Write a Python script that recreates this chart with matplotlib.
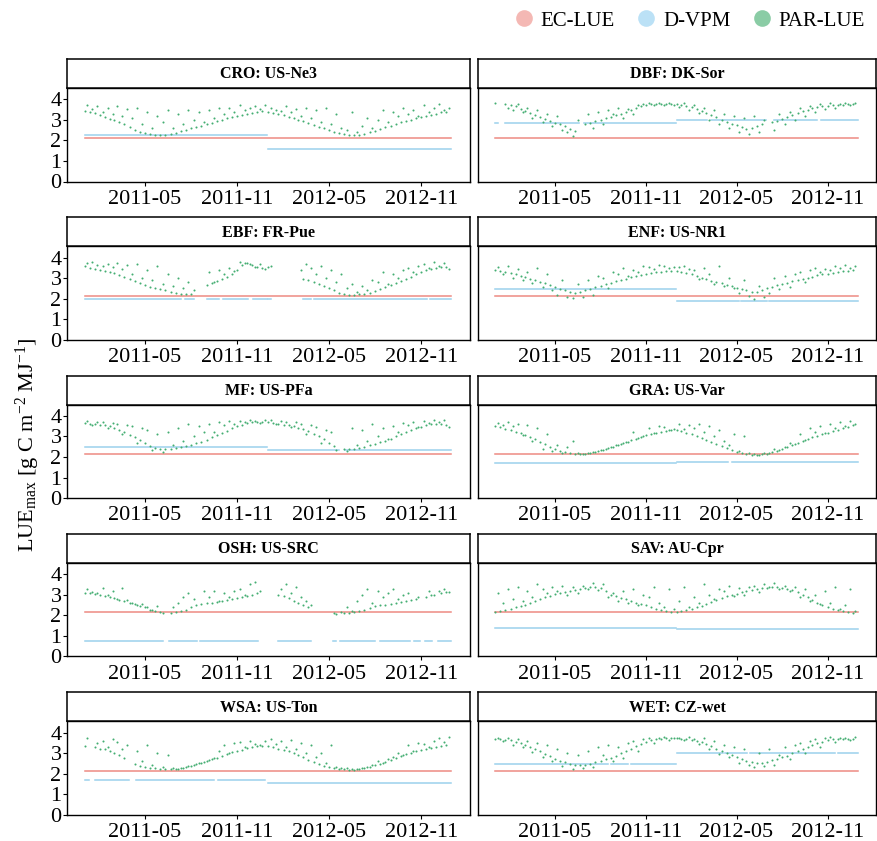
import numpy as np
import pandas as pd
import matplotlib
matplotlib.use("Agg")
import matplotlib.pyplot as plt
import matplotlib.dates as mdates
from matplotlib.lines import Line2D

plt.rcParams['font.family'] = ['Liberation Serif', 'DejaVu Serif']
plt.rcParams['mathtext.fontset'] = 'custom'
plt.rcParams['mathtext.rm'] = 'Liberation Serif'
plt.rcParams['mathtext.it'] = 'Liberation Serif:italic'
plt.rcParams['mathtext.bf'] = 'Liberation Serif:bold'

# ---------------- data ----------------
site_titles = ["CRO: US-Ne3", "DBF: DK-Sor", "EBF: FR-Pue", "ENF: US-NR1", "MF: US-PFa",
               "GRA: US-Var", "OSH: US-SRC", "SAV: AU-Cpr", "WSA: US-Ton", "WET: CZ-wet"]
legend_labels = ["EC-LUE", "D-VPM", "PAR-LUE"]
x_tick_labels = ["2011-05", "2011-11", "2012-05", "2012-11"]
y_ticks = [0, 1, 2, 3, 4]

ec_lue_value = 2.14

dvpm_2011 = [2.28, 2.87, 1.97, 2.45, 2.47, 1.71, 0.73, 1.40, 1.70, 2.47]
dvpm_2012 = [1.60, 2.97, 1.97, 1.89, 2.33, 1.78, 0.73, 1.35, 1.54, 2.99]

# missing-data periods (start, end) of each site
gaps_cro = []
gaps_dbf = [("2011-01-08", "2011-01-20"), ("2011-06-19", "2011-06-27"), ("2012-03-04", "2012-03-10"),
            ("2012-07-01", "2012-07-14"), ("2012-10-12", "2012-10-18")]
gaps_ebf = [("2011-07-13", "2011-07-19"), ("2011-08-07", "2011-08-31"), ("2011-09-26", "2011-10-02"),
            ("2011-11-24", "2011-12-02"), ("2012-01-07", "2012-03-10"), ("2012-03-28", "2012-03-31"),
            ("2012-11-13", "2012-11-18")]
gaps_enf = [("2012-05-06", "2012-05-08"), ("2012-07-02", "2012-07-04")]
gaps_mf = [("2012-05-23", "2012-06-02")]
gaps_gra = [("2012-04-14", "2012-04-20")]
gaps_osh = [("2011-06-08", "2011-06-16"), ("2011-08-13", "2011-08-18"), ("2011-12-13", "2012-01-20"),
            ("2012-03-28", "2012-05-09"), ("2012-05-17", "2012-05-22"), ("2012-08-02", "2012-08-10"),
            ("2012-10-11", "2012-10-16"), ("2012-10-31", "2012-11-08"), ("2012-11-23", "2012-12-04")]
gaps_sav = []
gaps_wsa = [("2011-01-11", "2011-01-20"), ("2011-04-01", "2011-04-12"), ("2011-09-16", "2011-09-22"),
            ("2011-12-27", "2011-12-30")]
gaps_wet = [("2011-08-17", "2011-08-22"), ("2011-09-26", "2011-10-01"), ("2012-04-04", "2012-04-07"),
            ("2012-05-24", "2012-05-27"), ("2012-11-17", "2012-11-21")]

nan = np.nan
# PAR-LUE: main band (days 1, 11, 21 of each month, Jan 2011 - Dec 2012)
cro_main = [3.45, 3.40, 3.35, 3.25, 3.15, 3.05, 3.00, 2.90, 2.80, 2.65, 2.50, 2.40,
            2.35, 2.30, 2.28, 2.25, 2.28, 2.32, 2.38, 2.45, 2.52, 2.60, 2.67, 2.72,
            2.78, 2.85, 2.92, 3.00, 3.07, 3.12, 3.18, 3.24, 3.30, 3.35, 3.40, 3.42,
            3.38, 3.33, 3.28, 3.22, 3.15, 3.08, 3.00, 2.92, 2.85, 2.75, 2.67, 2.58,
            2.50, 2.43, 2.36, 2.30, 2.25, 2.25, 2.28, 2.33, 2.40, 2.48, 2.57, 2.65,
            2.72, 2.80, 2.88, 2.95, 3.00, 3.07, 3.12, 3.18, 3.25, 3.30, 3.36, 3.40]
dbf_main = [3.80, nan, 3.75, 3.72, 3.65, 3.55, 3.45, 3.35, 3.25, 3.15, 3.05, 2.95,
            2.85, 2.80, 2.70, 2.55, 2.45, nan, 2.80, 2.85, 2.95, 3.00, 3.08, 3.15,
            3.22, 3.30, 3.38, 3.48, 3.58, 3.65, 3.72, 3.75, 3.77, 3.78, 3.78, 3.76,
            3.75, 3.72, 3.68, 3.62, 3.55, 3.45, 3.35, 3.25, 3.12, 3.00, 2.90, 2.80,
            2.75, 2.65, 2.55, 2.60, 2.70, 2.80, nan, 2.90, 2.95, 3.05, 3.15, 3.25,
            3.35, 3.42, 3.50, 3.58, 3.62, 3.66, 3.68, 3.70, 3.72, 3.74, 3.75, 3.76]
ebf_main = [3.60, 3.50, 3.45, 3.40, 3.35, 3.30, 3.25, 3.15, 3.05, 2.95, 2.85, 2.75,
            2.65, 2.58, 2.50, 2.45, 2.40, 2.35, 2.30, 2.25, 2.22, 2.25, nan, nan,
            2.65, 2.75, 2.85, 2.95, 3.05, 3.20, 3.40, 3.65, 3.75, 3.65, 3.55, 3.50,
            3.55, nan, nan, nan, nan, nan, nan, 2.95, 2.90, 2.80, 2.70, 2.60,
            2.50, 2.40, 2.30, 2.25, 2.20, 2.20, 2.22, 2.25, 2.30, 2.38, 2.48, 2.58,
            2.68, 2.78, 2.88, 2.98, 3.08, 3.18, 3.28, 3.38, 3.45, 3.50, 3.55, 3.55]
enf_main = [3.40, 3.35, 3.30, 3.25, 3.20, 3.12, 3.05, 2.98, 2.90, 2.82, 2.75, 2.65,
            2.55, 2.48, 2.40, 2.35, 2.30, 2.32, 2.40, 2.48, 2.55, 2.62, 2.70, 2.78,
            2.85, 2.92, 2.98, 3.05, 3.10, 3.15, 3.20, 3.25, 3.30, 3.32, 3.35, 3.36,
            3.35, 3.30, 3.25, 3.18, 3.10, 3.02, 2.95, 2.88, 2.82, 2.75, 2.68, 2.60,
            2.52, 2.45, 2.40, 2.35, 2.35, 2.42, 2.50, 2.58, 2.65, 2.72, 2.78, 2.85,
            2.90, 2.96, 3.02, 3.08, 3.14, 3.18, 3.22, 3.26, 3.30, 3.33, 3.36, 3.38]
mf_main = [3.65, 3.62, 3.60, 3.58, 3.55, 3.50, 3.40, 3.30, 3.20, 3.05, 2.95, 2.85,
           2.70, 2.55, 2.45, 2.40, 2.38, 2.40, 2.45, 2.50, 2.55, 2.60, 2.68, 2.75,
           2.85, 2.95, 3.05, 3.15, 3.28, 3.40, 3.50, 3.58, 3.65, 3.68, 3.70, 3.70,
           3.68, 3.65, 3.62, 3.58, 3.55, 3.50, 3.42, 3.35, 3.25, 3.12, 3.00, 2.90,
           2.70, 2.55, nan, 2.40, 2.38, 2.40, 2.45, 2.50, 2.58, 2.65, 2.72, 2.80,
           2.90, 3.00, 3.10, 3.20, 3.30, 3.40, 3.48, 3.55, 3.60, 3.62, 3.60, 3.55]
gra_main = [3.50, 3.45, 3.38, 3.30, 3.22, 3.15, 3.05, 2.98, 2.90, 2.75, 2.62, 2.50,
            2.38, 2.28, 2.22, 2.18, 2.15, 2.15, 2.17, 2.20, 2.25, 2.32, 2.40, 2.48,
            2.57, 2.65, 2.73, 2.82, 2.90, 2.98, 3.05, 3.12, 3.18, 3.23, 3.28, 3.32,
            3.30, 3.25, 3.18, 3.10, 3.02, 2.93, 2.85, 2.75, 2.65, 2.55, 2.45, 2.35,
            2.25, 2.18, 2.15, 2.12, 2.12, 2.14, 2.16, 2.22, 2.30, 2.40, 2.50, 2.60,
            2.70, 2.78, 2.87, 2.95, 3.02, 3.10, 3.18, 3.25, 3.32, 3.40, 3.48, 3.55]
osh_main = [3.10, 3.07, 3.03, 2.98, 2.93, 2.88, 2.82, 2.76, 2.70, 2.62, 2.55, 2.47,
            2.38, 2.28, 2.20, 2.15, nan, 2.12, 2.15, 2.20, 2.28, 2.40, 2.48, 2.55,
            2.58, 2.62, 2.66, 2.70, 2.75, 2.80, 2.85, 2.90, 2.95, 3.00, 3.08, nan,
            nan, nan, 3.00, 2.92, 2.82, 2.72, 2.62, 2.52, 2.42, nan, nan, nan,
            nan, 2.12, nan, 2.10, 2.10, 2.15, 2.20, 2.28, 2.35, 2.45, 2.50, 2.52,
            2.55, 2.60, 2.65, 2.70, 2.75, 2.78, nan, 2.90, 3.00, nan, 3.10, 3.15]
sav_main = [2.18, 2.20, 2.25, 2.30, 2.38, 2.45, 2.52, 2.60, 2.70, 2.78, 2.88, 2.95,
            3.02, 3.10, 3.15, 3.20, 3.25, 3.30, 3.35, 3.38, 3.40, 3.35, 3.20, 3.00,
            2.95, 2.85, 2.78, 2.70, 2.62, 2.55, 2.48, 2.40, 2.32, 2.25, 2.20, 2.15,
            2.15, 2.20, 2.25, 2.30, 2.38, 2.45, 2.55, 2.65, 2.75, 2.85, 2.92, 3.00,
            3.05, 3.12, 3.18, 3.22, 3.28, 3.32, 3.35, 3.38, 3.38, 3.35, 3.30, 3.22,
            3.12, 3.00, 2.88, 2.75, 2.62, 2.50, 2.40, 2.32, 2.25, 2.20, 2.15, 2.12]
wsa_main = [3.35, nan, 3.28, 3.22, 3.18, 3.10, 3.00, 2.90, 2.78, nan, 2.45, 2.38,
            2.32, 2.28, 2.25, 2.22, 2.20, 2.20, 2.22, 2.25, 2.30, 2.38, 2.45, 2.52,
            2.62, 2.70, 2.78, 2.88, 2.95, 3.03, 3.10, 3.17, 3.23, 3.28, 3.32, 3.35,
            3.33, 3.28, 3.22, 3.15, 3.08, 3.00, 2.90, 2.80, 2.68, 2.55, 2.45, 2.38,
            2.30, 2.25, 2.22, 2.20, 2.18, 2.18, 2.20, 2.25, 2.32, 2.40, 2.48, 2.55,
            2.65, 2.75, 2.85, 2.93, 3.00, 3.08, 3.15, 3.20, 3.26, 3.30, 3.35, 3.38]
wet_main = [3.70, 3.68, 3.65, 3.62, 3.55, 3.48, 3.38, 3.28, 3.18, 3.08, 2.95, 2.85,
            2.72, 2.62, 2.55, 2.48, 2.42, 2.40, 2.42, 2.48, 2.55, 2.62, 2.70, 2.78,
            2.88, 2.98, 3.08, 3.20, 3.32, 3.45, 3.55, 3.62, 3.68, 3.70, 3.72, 3.72,
            3.72, 3.70, 3.68, 3.65, 3.60, 3.55, 3.45, 3.35, 3.22, 3.10, 3.00, 2.90,
            2.80, 2.70, 2.62, 2.55, 2.50, 2.52, 2.58, 2.65, 2.72, 2.80, 2.88, 2.98,
            3.08, 3.18, 3.28, 3.38, 3.48, 3.55, 3.62, 3.66, 3.68, 3.70, 3.70, 3.70]

# PAR-LUE: scattered values (days 6, 16, 26 of each month)
cro_extra = [3.70, 3.55, 3.65, 3.40, 3.60, 3.30, 3.65, 3.20, 3.55, 3.10, 3.60, 2.80,
             3.40, 2.60, 3.20, 2.90, 3.50, 2.60, 3.30, 2.80, 3.50, 3.00, 3.40, 2.90,
             3.50, 3.10, 3.60, 3.30, 3.60, 3.40, 3.70, 3.50, 3.60, 3.65, 3.55, 3.70,
             3.60, 3.50, 3.45, 3.65, 3.40, 3.55, 3.20, 3.60, 3.10, 3.50, 2.90, 3.60,
             2.80, 3.30, 2.60, 2.50, 3.40, 2.40, 2.70, 3.10, 2.60, 3.00, 3.50, 2.90,
             3.40, 3.20, 3.60, 3.30, 3.50, 3.20, 3.70, 3.40, 3.60, 3.75, 3.50, 3.60]
dbf_extra = [nan, nan, 3.60, 3.50, 3.75, 3.40, 3.60, 3.10, 3.50, 2.90, 3.30, 2.70,
             3.20, 2.50, 2.40, 2.20, 3.00, nan, 3.30, 2.60, 3.40, 2.80, 3.50, 3.30,
             3.60, 3.10, 3.55, 3.30, 3.70, 3.75, 3.80, 3.70, 3.80, 3.74, 3.80, 3.72,
             3.62, 3.80, 3.50, 3.70, 3.35, 3.60, 3.00, 3.50, 2.80, 3.30, 2.60, 3.20,
             2.40, 3.10, 2.30, 3.20, 2.40, 3.00, nan, 2.50, 3.30, 2.80, 3.40, 3.00,
             3.60, 3.20, 3.65, 3.40, 3.75, 3.55, 3.80, 3.60, 3.78, 3.80, 3.72, 3.80]
ebf_extra = [3.75, 3.80, 3.65, 3.60, 3.70, 3.55, 3.75, 3.45, 3.65, 3.20, 3.70, 3.00,
             3.40, 2.90, 3.60, 2.70, 3.20, 2.60, 3.00, 2.50, 2.80, 2.40, nan, nan,
             3.30, 2.80, 3.40, 3.20, 3.50, 3.35, 3.80, 3.75, 3.70, 3.55, 3.70, 3.45,
             3.60, nan, nan, nan, nan, nan, 3.40, 3.70, 3.50, 3.20, 3.60, 3.00,
             3.40, 2.80, 3.20, 2.50, 2.70, 2.35, 2.60, 2.40, 2.90, 2.80, 3.30, 2.70,
             3.20, 3.00, 3.40, 3.50, 3.30, 3.60, 3.70, 3.50, 3.80, 3.60, 3.75, 3.45]
enf_extra = [3.55, 3.20, 3.60, 3.00, 3.45, 2.90, 3.30, 2.75, 3.50, 2.55, 3.20, 2.40,
             2.20, 2.90, 2.10, 2.05, 2.70, 2.10, 2.90, 2.20, 3.10, 3.00, 2.50, 3.30,
             3.20, 3.50, 3.10, 3.40, 3.30, 3.60, 3.55, 3.45, 3.65, 3.60, 3.50, 3.55,
             3.55, 3.60, 3.45, 3.40, 2.95, 3.50, 3.20, 2.70, 3.60, 2.60, 3.00, 2.50,
             2.30, 2.90, 2.15, 2.00, 2.60, 2.10, 2.30, 3.00, 2.45, 3.10, 2.55, 3.20,
             3.30, 2.80, 3.40, 3.50, 3.30, 3.45, 3.40, 3.60, 3.50, 3.65, 3.50, 3.60]
mf_extra = [3.75, 3.55, 3.72, 3.70, 3.40, 3.65, 3.60, 3.10, 3.55, 3.50, 2.70, 3.40,
            3.30, 2.35, 3.10, 2.25, 3.20, 2.60, 3.40, 2.80, 3.60, 3.00, 3.50, 3.20,
            3.60, 3.20, 3.70, 3.55, 3.75, 3.60, 3.75, 3.70, 3.78, 3.75, 3.65, 3.78,
            3.80, 3.60, 3.75, 3.70, 3.45, 3.72, 3.60, 3.10, 3.55, 3.45, 2.70, 3.30,
            3.20, 2.35, nan, 2.30, 3.40, 2.60, 3.30, 2.80, 3.60, 3.00, 3.40, 2.90,
            3.50, 3.20, 3.65, 3.55, 3.70, 3.45, 3.75, 3.65, 3.80, 3.70, 3.78, 3.45]
gra_extra = [3.65, 3.55, 3.70, 3.50, 3.60, 3.05, 3.55, 2.80, 3.40, 2.40, 3.10, 2.30,
             2.60, 2.20, 2.50, 2.80, 2.20, 2.16, 2.18, 2.22, 2.27, 2.33, 2.42, 2.50,
             2.58, 2.66, 2.75, 3.20, 2.92, 3.00, 3.40, 3.15, 3.50, 3.45, 3.30, 3.35,
             3.60, 3.35, 3.55, 3.40, 3.60, 3.20, 3.50, 3.00, 3.30, 2.80, 2.60, 3.10,
             2.30, 3.00, 2.20, 2.15, 2.10, 2.18, 2.20, 2.40, 2.35, 2.50, 2.70, 2.65,
             3.10, 2.85, 3.40, 3.20, 3.50, 3.15, 3.60, 3.40, 3.70, 3.50, 3.75, 3.60]
osh_extra = [3.30, 3.15, 3.10, 3.35, 3.00, 3.20, 2.80, 3.35, 2.75, 2.60, 2.50, 2.55,
             2.40, 2.25, 2.45, 2.10, nan, 2.40, 2.60, 2.90, 3.10, 2.80, nan, 3.20,
             2.90, 3.20, 2.70, 3.10, 2.90, 3.20, 3.30, 3.00, 3.50, 3.60, 3.20, nan,
             nan, nan, 3.30, 3.50, 3.10, 3.40, 2.90, 2.70, 2.50, nan, nan, nan,
             nan, 2.08, 2.15, 2.40, 2.20, 2.70, 3.00, 3.30, 2.60, 3.20, 2.90, 3.10,
             3.30, 2.80, 3.00, 3.10, nan, 2.90, nan, 3.20, 3.00, 3.20, 3.30, 3.15]
sav_extra = [3.10, 2.60, 3.30, 2.80, 3.40, 2.70, 3.20, 2.90, 3.50, 3.30, 3.10, 3.40,
             3.20, 3.45, 3.00, 3.40, 3.10, 3.45, 3.30, 3.55, 3.25, 3.50, 2.90, 3.10,
             2.70, 3.20, 2.60, 3.30, 2.50, 3.00, 2.90, 3.40, 2.60, 2.40, 3.30, 2.30,
             2.70, 3.40, 2.40, 2.90, 2.60, 3.50, 3.00, 2.80, 3.30, 3.20, 3.45, 2.95,
             3.35, 3.00, 3.40, 3.45, 3.15, 3.50, 3.40, 3.55, 3.30, 3.45, 3.20, 3.40,
             2.90, 3.30, 2.70, 3.00, 2.55, 3.20, 2.60, 3.40, 2.30, 2.50, 3.30, 2.20]
wsa_extra = [3.75, nan, 3.50, 3.60, 3.30, 3.70, 3.55, 3.20, 3.40, nan, 3.10, 2.60,
             3.40, 2.40, 3.00, 2.30, 2.90, 2.25, 2.22, 2.28, 2.35, 2.42, 2.50, 2.58,
             2.68, 2.75, 3.10, 3.40, 3.00, 3.50, 3.55, 3.30, 3.60, 3.45, 3.40, 3.60,
             3.70, 3.45, 3.60, 3.30, 3.65, 3.20, 3.50, 3.00, 3.40, 2.80, 3.00, 2.50,
             3.40, 2.30, 2.25, 2.25, 2.20, 2.22, 2.28, 2.30, 2.40, 2.60, 2.50, 2.70,
             2.80, 3.00, 2.90, 3.40, 3.10, 3.50, 3.45, 3.30, 3.60, 3.75, 3.55, 3.80]
wet_extra = [3.75, 3.60, 3.72, 3.40, 3.70, 3.30, 3.60, 3.05, 3.50, 2.80, 3.40, 2.60,
             3.20, 2.35, 3.00, 2.20, 2.90, 2.25, 3.10, 2.30, 3.30, 2.90, 3.40, 2.60,
             3.30, 2.75, 3.50, 3.60, 3.10, 3.70, 3.75, 3.50, 3.75, 3.78, 3.65, 3.75,
             3.75, 3.62, 3.78, 3.70, 3.45, 3.72, 3.20, 3.60, 2.95, 3.40, 2.80, 3.30,
             2.50, 3.20, 2.40, 2.30, 3.00, 2.35, 3.20, 2.40, 2.90, 3.30, 2.70, 3.40,
             3.50, 3.00, 3.60, 3.70, 3.30, 3.75, 3.78, 3.55, 3.75, 3.75, 3.65, 3.78]

main_list = [cro_main, dbf_main, ebf_main, enf_main, mf_main, gra_main, osh_main, sav_main, wsa_main, wet_main]
extra_list = [cro_extra, dbf_extra, ebf_extra, enf_extra, mf_extra, gra_extra, osh_extra, sav_extra, wsa_extra, wet_extra]
gap_list = [gaps_cro, gaps_dbf, gaps_ebf, gaps_enf, gaps_mf, gaps_gra, gaps_osh, gaps_sav, gaps_wsa, gaps_wet]

# ---------------- dates ----------------
main_dates = [pd.Timestamp(y, m, d) for y in (2011, 2012) for m in range(1, 13) for d in (1, 11, 21)]
extra_dates = [pd.Timestamp(y, m, d) for y in (2011, 2012) for m in range(1, 13) for d in (6, 16, 26)]
daily = pd.date_range("2011-01-01", "2012-12-31", freq="D")
tick_dates = [pd.Timestamp(s + "-01") for s in x_tick_labels]

# ---------------- styles ----------------
RED = "#EE8A82"
BLUE = "#9BD1EC"
GREEN = "#45AE72"

W, H = 878, 841
fig = plt.figure(figsize=(W / 100, H / 100), dpi=100)

col_left = [67, 478]
col_right = [470, 876]
row_top0 = 59.0
row_pitch = 158.3
strip_h = 29.0
panel_h = 93.5

xmin = pd.Timestamp("2010-11-27")
xmax = pd.Timestamp("2013-02-06")

for i, title in enumerate(site_titles):
    r, c = divmod(i, 2)
    x0 = col_left[c]
    x1 = col_right[c]
    st = row_top0 + r * row_pitch
    sb = st + strip_h
    pb = sb + panel_h
    ax = fig.add_axes([x0 / W, 1 - pb / H, (x1 - x0) / W, panel_h / H])
    sax = fig.add_axes([x0 / W, 1 - sb / H, (x1 - x0) / W, strip_h / H])

    # strip
    sax.set_xticks([]); sax.set_yticks([])
    for sp in sax.spines.values():
        sp.set_linewidth(1.1); sp.set_color("black")
    sax.text(0.5, 0.47, title, ha="center", va="center", fontsize=11.5,
             fontweight="bold", transform=sax.transAxes)

    # EC-LUE
    ec = np.full(len(daily), ec_lue_value)
    ax.plot(daily, ec, color=RED, lw=1.1, zorder=2)

    # D-VPM, one line per year
    for yr, val in ((2011, dvpm_2011[i]), (2012, dvpm_2012[i])):
        d_yr = daily[daily.year == yr]
        dv = np.full(len(d_yr), val, dtype=float)
        for g0, g1 in gap_list[i]:
            mask = (d_yr >= pd.Timestamp(g0)) & (d_yr <= pd.Timestamp(g1))
            dv[mask] = np.nan
        ax.plot(d_yr, dv, color=BLUE, lw=1.1, zorder=2)

    ax.scatter(main_dates, main_list[i], s=2.2, color=GREEN, lw=0, zorder=3)
    ax.scatter(extra_dates, extra_list[i], s=2.2, color=GREEN, lw=0, zorder=3)

    ax.set_xlim(xmin, xmax)
    ax.set_ylim(0, 4.55)
    ax.set_xticks(tick_dates)
    ax.set_xticklabels(x_tick_labels, fontsize=16)
    ax.tick_params(axis="x", length=3, width=0.8, pad=3, colors="black")
    if c == 0:
        ax.set_yticks(y_ticks)
        ax.set_yticklabels([str(v) for v in y_ticks], fontsize=16)
        ax.tick_params(axis="y", length=3, width=0.8, pad=1)
    else:
        ax.set_yticks([])
    for sp in ax.spines.values():
        sp.set_linewidth(1.0); sp.set_color("black")

fig.text(28 / W, 1 - 445 / H, r"LUE$_{\mathrm{max}}$ [g C m$^{-2}$ MJ$^{-1}$]",
         rotation=90, ha="center", va="center", fontsize=16)

handles = [Line2D([], [], marker="o", ls="", ms=12, color=col, alpha=0.6, mec="none")
           for col in ("#EE8A82", "#8ECDF0", "#3DAA6A")]
fig.legend(handles, legend_labels, loc="center right", bbox_to_anchor=(873 / W, 1 - 21 / H),
           ncol=3, frameon=False, fontsize=15, handletextpad=0.3, columnspacing=1.0,
           borderaxespad=0, handlelength=1.0)

fig.savefig("out.png", dpi=100)
